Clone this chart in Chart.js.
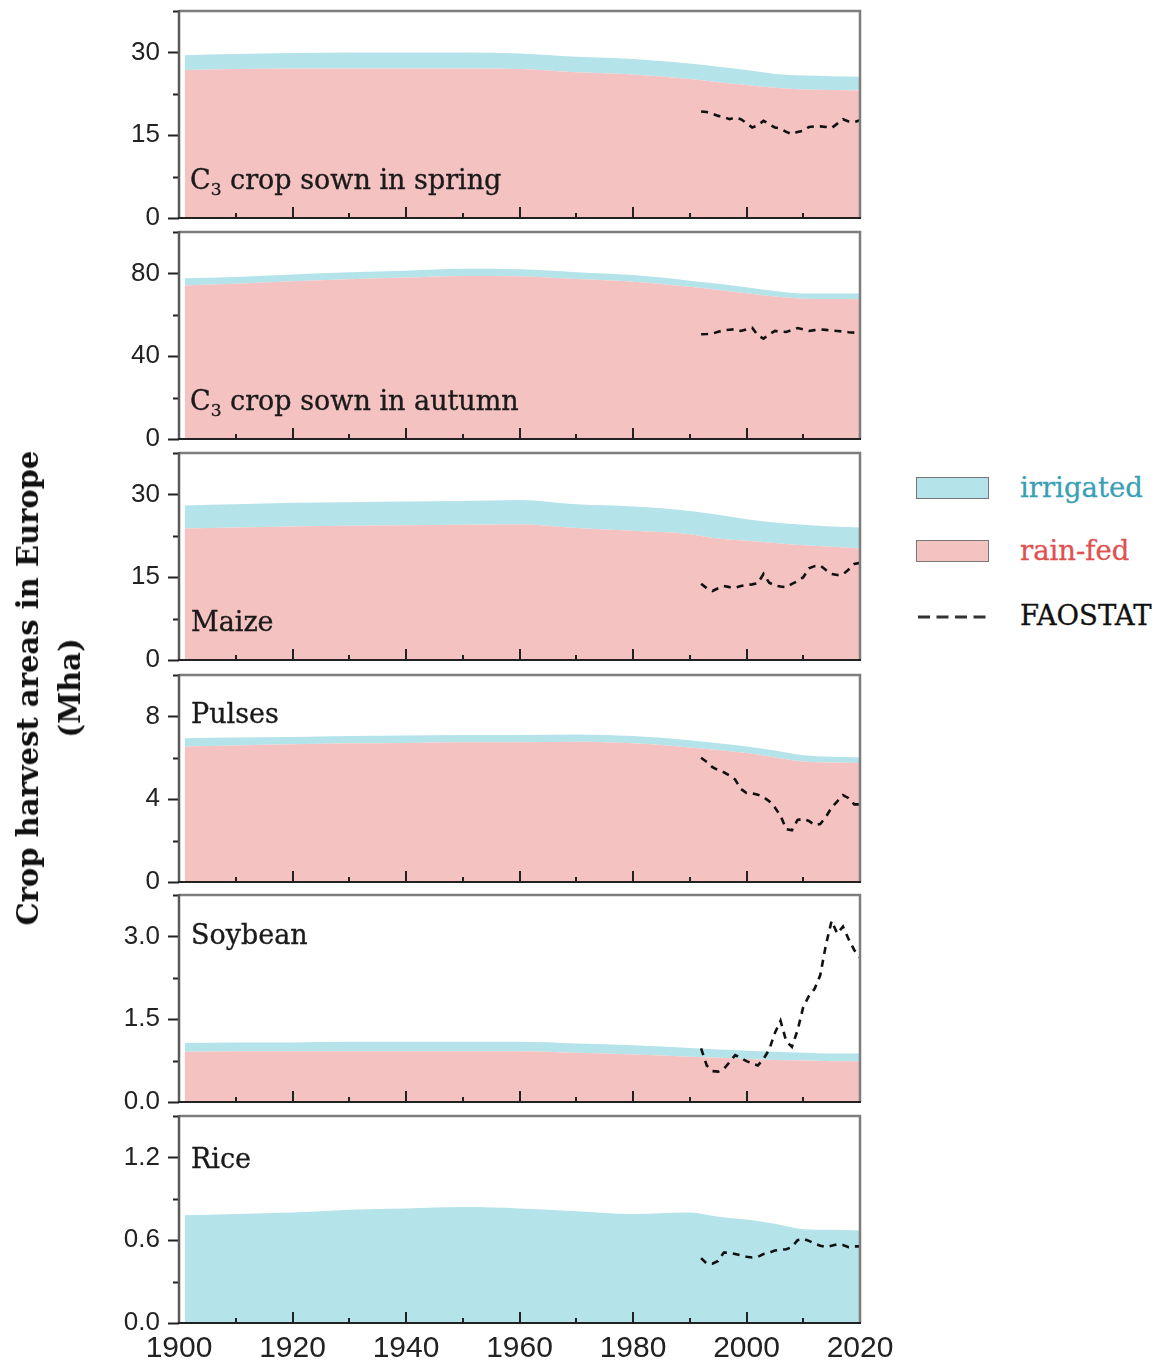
<!DOCTYPE html>
<html><head><meta charset="utf-8">
<script src="https://cdn.jsdelivr.net/npm/chart.js@4.4.1/dist/chart.umd.min.js"></script>
<style>
html,body{margin:0;padding:0;background:#fff;}
#wrap{position:relative;width:1161px;height:1365px;overflow:hidden;background:#fff;}
canvas{position:absolute;left:0;}
.plabel{position:absolute;font-family:"DejaVu Serif",serif;font-size:27px;color:#1a1a1a;white-space:nowrap;line-height:28px;z-index:5;-webkit-text-stroke:0.35px #1a1a1a;}
.plabel sub{font-size:17px;vertical-align:-6px;line-height:0;}
#ytitle{position:absolute;left:49px;top:688px;transform:translate(-50%,-50%) rotate(-90deg);font-family:"DejaVu Serif",serif;font-weight:bold;font-size:29px;line-height:42px;text-align:center;white-space:nowrap;color:#111;}
.lbox{position:absolute;left:916px;width:71px;height:20px;border:1.5px solid #777;}
.ltxt{position:absolute;left:1020px;font-family:"DejaVu Serif",serif;font-size:27.5px;line-height:30px;white-space:nowrap;-webkit-text-stroke:0.3px currentColor;}
#ldash{position:absolute;left:917px;top:612px;}
</style></head>
<body><div id="wrap">
<div id="ytitle">Crop harvest areas in Europe<br>(Mha)</div>
<div class="plabel" style="left:190px;top:166px">C<sub>3</sub> crop sown in spring</div>
<div class="plabel" style="left:190px;top:387px">C<sub>3</sub> crop sown in autumn</div>
<div class="plabel" style="left:191px;top:608px">Maize</div>
<div class="plabel" style="left:191px;top:700px">Pulses</div>
<div class="plabel" style="left:191px;top:921px">Soybean</div>
<div class="plabel" style="left:191px;top:1145px">Rice</div>
<div class="lbox" style="top:477px;background:rgb(180,227,233)"></div>
<div class="ltxt" style="top:472px;color:#3a9fb6">irrigated</div>
<div class="lbox" style="top:540px;background:rgb(243,194,193)"></div>
<div class="ltxt" style="top:535px;color:#e0504f">rain-fed</div>
<svg id="ldash" width="72" height="10"><line x1="1" y1="5" x2="69" y2="5" stroke="#333" stroke-width="3" stroke-dasharray="12,6.5"/></svg>
<div class="ltxt" style="top:600px;color:#111">FAOSTAT</div>
</div>
<script>
// ---------- DATA ----------
const years = [1901,1910,1920,1930,1940,1950,1960,1970,1980,1990,1995,2000,2005,2010,2015,2020];
const faoYears = [1992,1993,1994,1995,1996,1997,1998,1999,2000,2001,2002,2003,2004,2005,2006,2007,2008,2009,2010,2011,2012,2013,2014,2015,2016,2017,2018,2019,2020];
const xTicks = [1900,1920,1940,1960,1980,2000,2020];

const springRainfed   = [26.8,27.0,27.1,27.1,27.1,27.1,27.0,26.4,26.0,25.2,24.6,24.1,23.6,23.3,23.2,23.1];
const springIrrigated = [2.7,2.7,2.8,2.9,2.9,2.9,2.8,2.8,2.8,2.8,2.8,2.7,2.5,2.5,2.5,2.5];
const springFao = [19.3,19.2,18.9,18.5,18.3,17.9,18.2,17.9,17.2,16.4,16.8,17.6,17.0,16.4,16.2,15.6,15.2,15.6,15.8,16.5,16.6,16.6,16.5,16.3,17.1,17.9,17.5,17.4,17.7];

const autumnRainfed   = [74.2,75.0,76.2,77.2,78.0,78.8,78.6,77.3,76.0,73.5,72.0,70.4,68.8,67.8,67.6,67.5];
const autumnIrrigated = [3.4,3.3,3.3,3.3,3.3,3.4,3.4,3.3,3.2,3.0,3.0,2.9,2.7,2.5,2.7,2.8];
const autumnFao = [50.6,50.7,50.9,51.8,52.5,52.8,53.0,52.2,53.0,53.8,50.0,48.5,50.5,52.2,51.9,51.7,52.6,53.6,53.0,52.2,52.6,53.0,52.7,52.4,52.2,51.9,51.6,51.4,51.3];

const maizeRainfed   = [23.8,24.0,24.2,24.3,24.4,24.5,24.6,23.9,23.4,22.8,22.0,21.6,21.2,20.8,20.5,20.2];
const maizeIrrigated = [4.2,4.2,4.3,4.3,4.3,4.3,4.4,4.3,4.4,4.2,4.3,3.9,3.7,3.7,3.7,3.8];
const maizeFao = [13.8,13.0,12.5,13.0,13.4,13.2,13.1,13.4,13.6,13.7,13.9,15.6,14.0,13.5,13.3,13.2,13.8,14.3,15.0,16.6,17.0,17.1,16.3,15.6,15.4,15.5,16.4,17.4,17.6];

const pulsesRainfed   = [6.55,6.6,6.65,6.7,6.72,6.75,6.75,6.78,6.7,6.5,6.38,6.23,6.02,5.82,5.77,5.75];
const pulsesIrrigated = [0.4,0.38,0.35,0.35,0.36,0.35,0.35,0.34,0.35,0.35,0.32,0.32,0.33,0.3,0.28,0.27];
const pulsesFao = [6.0,5.8,5.55,5.4,5.3,5.15,4.95,4.5,4.3,4.28,4.22,4.1,3.9,3.6,3.2,2.55,2.5,3.0,3.05,2.95,2.75,2.8,3.15,3.6,3.9,4.2,4.05,3.75,3.75];

const soyRainfed   = [0.91,0.92,0.92,0.92,0.92,0.92,0.92,0.89,0.86,0.82,0.80,0.78,0.76,0.75,0.74,0.74];
const soyIrrigated = [0.16,0.16,0.16,0.17,0.17,0.17,0.17,0.17,0.17,0.16,0.15,0.15,0.15,0.14,0.14,0.14];
const soyFao = [0.97,0.66,0.56,0.55,0.60,0.72,0.85,0.80,0.74,0.70,0.66,0.78,0.95,1.25,1.47,1.10,1.00,1.30,1.72,1.92,2.05,2.30,2.85,3.28,3.05,3.18,2.95,2.75,2.62];

const riceRainfed   = [0,0,0,0,0,0,0,0,0,0,0,0,0,0,0,0];
const riceIrrigated = [0.78,0.79,0.80,0.82,0.83,0.84,0.83,0.81,0.79,0.80,0.77,0.75,0.72,0.68,0.675,0.67];
const riceFao = [0.47,0.43,0.43,0.45,0.51,0.51,0.50,0.49,0.48,0.475,0.48,0.50,0.51,0.525,0.53,0.535,0.55,0.60,0.61,0.595,0.575,0.56,0.55,0.56,0.57,0.565,0.55,0.555,0.555];

const yMajorSteps = [15, 40, 15, 4, 1.5, 0.6];
const yMax = [37.5, 100, 37.5, 10, 3.75, 1.5];
const yTickDecimals = [0, 0, 0, 0, 1, 1];

// ---------- LAYOUT ----------
const panels = [
  {rain: springRainfed, irr: springIrrigated, fao: springFao, top: 11},
  {rain: autumnRainfed, irr: autumnIrrigated, fao: autumnFao, top: 232},
  {rain: maizeRainfed, irr: maizeIrrigated, fao: maizeFao, top: 453},
  {rain: pulsesRainfed, irr: pulsesIrrigated, fao: pulsesFao, top: 675},
  {rain: soyRainfed, irr: soyIrrigated, fao: soyFao, top: 895},
  {rain: riceRainfed, irr: riceIrrigated, fao: riceFao, top: 1116}
];
const PLOT_H = 207, PLOT_LEFT = 179, CANVAS_W = 910, PLOT_RIGHT = 860;
const CYAN = 'rgb(180,227,233)', PINK = 'rgb(243,194,193)';
const SANS = '"Liberation Sans", Arial, sans-serif';

const frameTicks = {
  id: 'frameTicks',
  afterDatasetsDraw(chart, args, opts) {
    const {ctx, chartArea: a, scales: {x, y}} = chart;
    ctx.save();
    ctx.lineCap = 'butt';
    ctx.strokeStyle = '#222'; ctx.lineWidth = 2;
    ctx.beginPath();
    const step = opts.step;
    for (let k = 0; k * step / 2 <= y.max + 1e-9; k++) {
      const v = k * step / 2;
      const py = Math.round(y.getPixelForValue(v)) + 0.5;
      const len = (k % 2 === 0) ? 11 : 6;
      ctx.moveTo(a.left - len, py); ctx.lineTo(a.left, py);
    }
    for (let yr = 1900; yr <= 2020; yr += 10) {
      const px = Math.round(x.getPixelForValue(yr));
      const len = (yr % 20 === 0) ? 11 : 5;
      ctx.moveTo(px, a.bottom); ctx.lineTo(px, a.bottom - len);
    }
    ctx.stroke();
    ctx.strokeStyle = '#7d7d7d'; ctx.lineWidth = 2.5;
    ctx.beginPath();
    ctx.moveTo(a.left, a.top); ctx.lineTo(a.right, a.top); ctx.lineTo(a.right, a.bottom);
    ctx.stroke();
    ctx.strokeStyle = '#5a5a5a'; ctx.lineWidth = 2.5;
    ctx.beginPath(); ctx.moveTo(a.left, a.top - 1); ctx.lineTo(a.left, a.bottom); ctx.stroke();
    ctx.strokeStyle = '#222'; ctx.lineWidth = 2;
    ctx.beginPath(); ctx.moveTo(a.left - 1, a.bottom); ctx.lineTo(a.right + 1, a.bottom); ctx.stroke();
    ctx.restore();
  }
};

const wrap = document.getElementById('wrap');
panels.forEach((p, i) => {
  const last = i === panels.length - 1;
  const padTop = 18;
  const xAxisH = last ? 40 : 0;
  const padBottom = last ? 2 : 20;
  const h = padTop + PLOT_H + xAxisH + padBottom;
  const cv = document.createElement('canvas');
  cv.width = CANVAS_W; cv.height = h;
  cv.style.width = CANVAS_W + 'px'; cv.style.height = h + 'px';
  cv.style.top = (p.top - padTop) + 'px';
  wrap.insertBefore(cv, wrap.firstChild);

  const pts = (arr) => years.map((yr, j) => ({x: yr, y: arr[j]}));
  const faoPts = faoYears.map((yr, j) => ({x: yr, y: p.fao[j]}));

  new Chart(cv, {
    type: 'line',
    data: {
      datasets: [
        {label: 'FAOSTAT', data: faoPts, stack: 'fao', borderColor: '#111', borderWidth: 2.6,
         borderDash: [7, 6], pointRadius: 0, fill: false, tension: 0},
        {label: 'rain-fed', data: pts(p.rain), stack: 'area', borderWidth: 0, borderColor: PINK,
         backgroundColor: PINK, pointRadius: 0, fill: 'origin', cubicInterpolationMode: 'monotone'},
        {label: 'irrigated', data: pts(p.irr), stack: 'area', borderWidth: 0, borderColor: CYAN,
         backgroundColor: CYAN, pointRadius: 0, fill: '-1', cubicInterpolationMode: 'monotone'}
      ]
    },
    options: {
      responsive: false, animation: false, devicePixelRatio: 1,
      layout: {padding: {top: padTop, bottom: padBottom, left: 0, right: CANVAS_W - PLOT_RIGHT}},
      plugins: {legend: {display: false}, tooltip: {enabled: false}, frameTicks: {step: yMajorSteps[i]}},
      scales: {
        x: {
          type: 'linear', min: 1900, max: 2020, display: last,
          afterFit: (s) => { s.height = xAxisH; },
          afterBuildTicks: (s) => { s.ticks = xTicks.map(v => ({value: v})); },
          border: {display: false},
          grid: {display: true, drawOnChartArea: false, drawTicks: true, tickLength: 8, tickColor: 'rgba(0,0,0,0)', color: 'rgba(0,0,0,0)'},
          ticks: {padding: 0, color: '#222', maxRotation: 0, autoSkip: false,
                  font: {family: SANS, size: 30},
                  callback: (v) => String(v)}
        },
        y: {
          type: 'linear', stacked: true, min: 0, max: yMax[i],
          afterFit: (s) => { s.width = PLOT_LEFT; },
          border: {display: false},
          grid: {display: true, drawOnChartArea: false, drawTicks: true, tickLength: 19, tickColor: 'rgba(0,0,0,0)', color: 'rgba(0,0,0,0)'},
          ticks: {stepSize: yMajorSteps[i], includeBounds: false, padding: 0, color: '#222',
                  font: {family: SANS, size: 26},
                  callback: (v) => Number(v).toFixed(yTickDecimals[i])}
        }
      }
    },
    plugins: [frameTicks]
  });
});
</script>
</body></html>
